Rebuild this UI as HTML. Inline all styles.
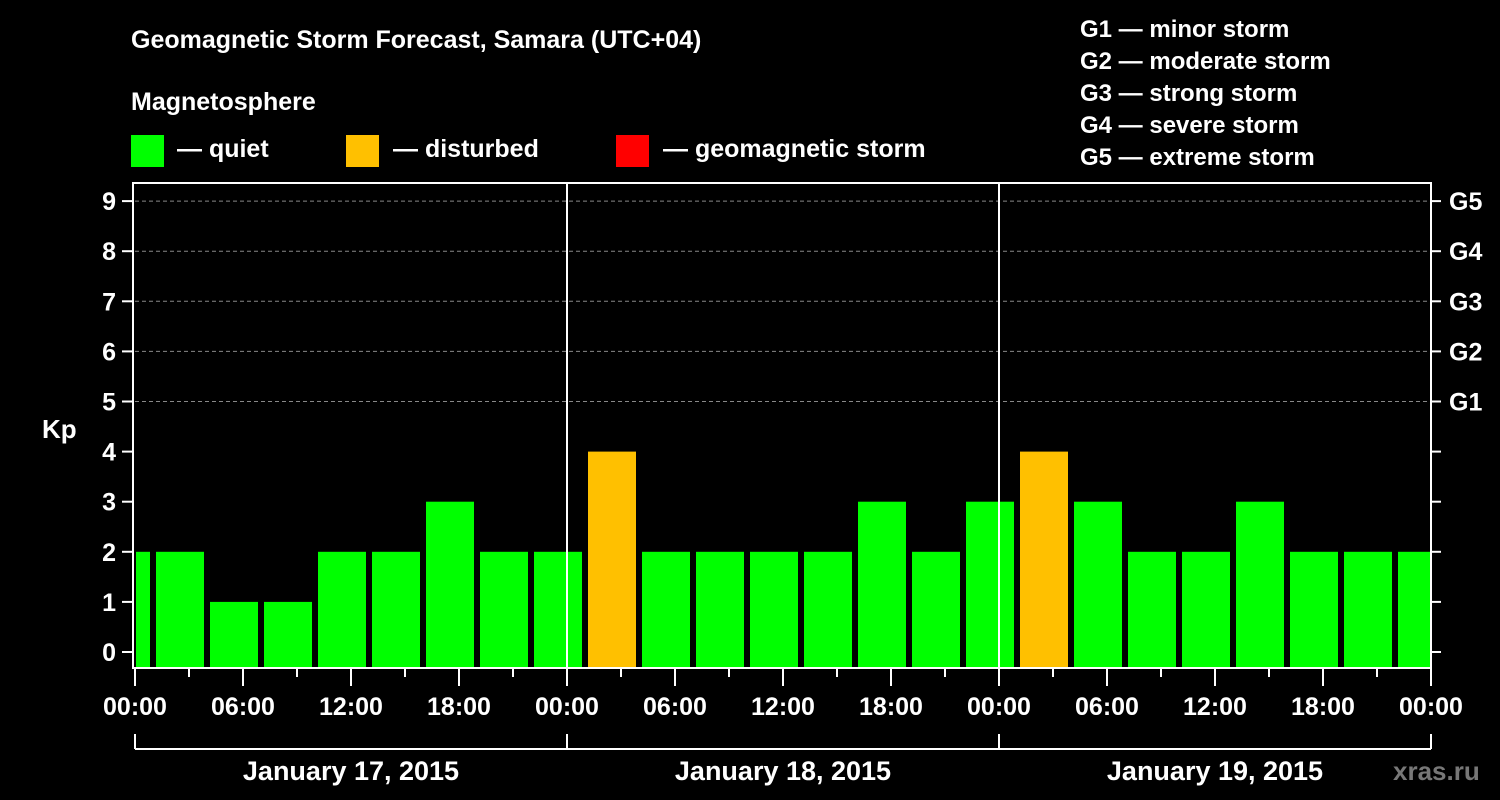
<!DOCTYPE html>
<html><head><meta charset="utf-8"><style>
body{margin:0;background:#000;width:1500px;height:800px;overflow:hidden}
svg{display:block;font-family:"Liberation Sans",Arial,sans-serif;font-weight:bold}
</style></head><body>
<svg id="c" width="1500" height="800">
<g fill="#fff" font-size="25">
<text x="131" y="48">Geomagnetic Storm Forecast, Samara (UTC+04)</text>
<text x="131" y="110">Magnetosphere</text>
<rect x="131" y="135" width="33" height="32" fill="#00ff00"/>
<text x="177" y="157">— quiet</text>
<rect x="346" y="135" width="33" height="32" fill="#ffc000"/>
<text x="393" y="157">— disturbed</text>
<rect x="616" y="135" width="33" height="32" fill="#ff0000"/>
<text x="663" y="157">— geomagnetic storm</text>
<g font-size="24">
<text x="1080" y="37">G1 — minor storm</text>
<text x="1080" y="69">G2 — moderate storm</text>
<text x="1080" y="101">G3 — strong storm</text>
<text x="1080" y="133">G4 — severe storm</text>
<text x="1080" y="165">G5 — extreme storm</text>
</g>
<text x="42" y="438" font-size="26">Kp</text>
<text x="1393" y="780" fill="#777" font-size="26">xras.ru</text>
</g>
<g id="plot"></g>
</svg>
<script>
const values=[2,2,1,1,2,2,3,2,2,4,2,2,2,2,3,2,3,4,3,2,2,3,2,2,2];
const startHours=[-2,1,4,7,10,13,16,19,22,25,28,31,34,37,40,43,46,49,52,55,58,61,64,67,70];
const yTicks=[0,1,2,3,4,5,6,7,8,9];
const gLabels=["G1","G2","G3","G4","G5"];
const xTickLabels=["00:00","06:00","12:00","18:00","00:00","06:00","12:00","18:00","00:00","06:00","12:00","18:00","00:00"];
const dayLabels=["January 17, 2015","January 18, 2015","January 19, 2015"];
const NS="http://www.w3.org/2000/svg";
const g=document.getElementById('plot');
const X=h=>135+h*18, Y=v=>652-v*50.1;
const L=135,R=1431,T=183,B=668;
function el(t,a,p){const e=document.createElementNS(NS,t);for(const k in a)e.setAttribute(k,a[k]);(p||g).appendChild(e);return e;}
// grid
for(let v=5;v<=9;v++){const e=el('line',{x1:L,x2:R,y1:Y(v),y2:Y(v),stroke:'#888','stroke-dasharray':'4,3','stroke-width':1});

}
// bars
values.forEach((v,i)=>{
 const x1=Math.max(X(startHours[i])+3,L+1), x2=Math.min(X(startHours[i]+3)-3,R-1);
 const c=v>=5?'#ff0000':(v>=4?'#ffc000':'#00ff00');
 const r=el('rect',{x:x1,y:Y(v),width:x2-x1,height:B-Y(v),fill:c});
 
 
});
// day separators
[24,48].forEach(h=>{const e=el('line',{x1:X(h),x2:X(h),y1:T,y2:B,stroke:'#fff','stroke-width':2});

});
// frame
const f=el('rect',{x:133,y:T,width:R-133,height:B-T,fill:'none',stroke:'#fff','stroke-width':2});


// y ticks
yTicks.forEach(v=>{
 el('line',{x1:122,x2:133,y1:Y(v),y2:Y(v),stroke:'#fff','stroke-width':2});
 el('line',{x1:R,x2:R+10,y1:Y(v),y2:Y(v),stroke:'#fff','stroke-width':2});
 const t=el('text',{x:116,y:Y(v)+9,'text-anchor':'end',fill:'#fff','font-size':25});t.textContent=v;
 
 
});
gLabels.forEach((s,i)=>{const t=el('text',{x:1449,y:Y(5+i)+9,fill:'#fff','font-size':25});t.textContent=s;
 
 });
// x ticks
for(let h=0;h<=72;h+=3){el('line',{x1:X(h),x2:X(h),y1:B,y2:h%6==0?686:677,stroke:'#fff','stroke-width':2});}
xTickLabels.forEach((s,i)=>{const t=el('text',{x:X(i*6),y:715,'text-anchor':'middle',fill:'#fff','font-size':25});t.textContent=s;
 
 });
// bracket
el('line',{x1:X(0),x2:X(72),y1:749,y2:749,stroke:'#fff','stroke-width':2});
[0,24,48,72].forEach(h=>el('line',{x1:X(h),x2:X(h),y1:734,y2:749,stroke:'#fff','stroke-width':2}));
dayLabels.forEach((s,i)=>{const t=el('text',{x:X(i*24+12),y:780,'text-anchor':'middle',fill:'#fff','font-size':27});t.textContent=s;
 
 });
</script>
</body></html>
